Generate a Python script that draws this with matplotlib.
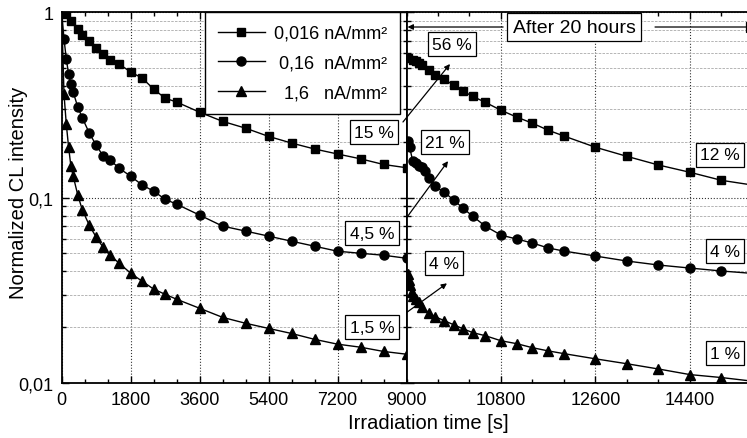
import matplotlib.pyplot as plt
from matplotlib.ticker import FixedLocator, FuncFormatter, NullFormatter

plt.rcParams['font.family'] = ['Liberation Sans', 'DejaVu Sans']
plt.rcParams['font.size'] = 13

# linker Teil: 0 ... 9000 s
t_sq = [0, 120, 240, 420, 540, 720, 900, 1080, 1260, 1500, 1800, 2100, 2400, 2700, 3000,
        3600, 4200, 4800, 5400, 6000, 6600, 7200, 7800, 8400, 9000]
i_sq = [1.0, 0.979, 0.898, 0.813, 0.754, 0.700, 0.642, 0.595, 0.552, 0.526, 0.476, 0.442, 0.385,
        0.344, 0.328, 0.289, 0.258, 0.237, 0.214, 0.197, 0.183, 0.172, 0.162, 0.151, 0.145]

t_ci = [0, 60, 120, 180, 240, 300, 420, 540, 720, 900, 1080, 1260, 1500, 1800, 2100, 2400,
        2700, 3000, 3600, 4200, 4800, 5400, 6000, 6600, 7200, 7800, 8400, 9000]
i_ci = [1.0, 0.718, 0.560, 0.464, 0.410, 0.371, 0.308, 0.269, 0.223, 0.192, 0.168, 0.160, 0.144,
        0.1306, 0.117, 0.1084, 0.098, 0.0922, 0.0805, 0.0702, 0.066, 0.062, 0.0582, 0.0547,
        0.0514, 0.0501, 0.0489, 0.0471]

t_tr = t_ci
i_tr = [1.0, 0.362, 0.249, 0.1874, 0.148, 0.1306, 0.1032, 0.0856, 0.0710, 0.0612, 0.0540,
        0.0489, 0.0443, 0.0391, 0.0354, 0.0321, 0.0301, 0.0283, 0.0253, 0.0226, 0.0210,
        0.0197, 0.0185, 0.0172, 0.0162, 0.0156, 0.0148, 0.0143]

# rechter Teil: nach 20 Stunden Pause
t_sq2 = [9030, 9120, 9180, 9240, 9300, 9420, 9540, 9720, 9900, 10080, 10260, 10500, 10800,
         11100, 11400, 11700, 12000, 12600, 13200, 13800, 14400, 15000]
i_sq2 = [0.565, 0.551, 0.544, 0.531, 0.518, 0.487, 0.458, 0.435, 0.404, 0.375, 0.352, 0.327,
         0.296, 0.272, 0.252, 0.231, 0.215, 0.187, 0.167, 0.150, 0.137, 0.124]

t_ci2 = [9030, 9060, 9120, 9180, 9240, 9300, 9360, 9420, 9540, 9720, 9900, 10080, 10260, 10500,
         10800, 11100, 11400, 11700, 12000, 12600, 13200, 13800, 14400, 15000]
i_ci2 = [0.202, 0.187, 0.157, 0.153, 0.149, 0.146, 0.139, 0.127, 0.115, 0.107, 0.097, 0.0875,
         0.0795, 0.0702, 0.0628, 0.0598, 0.0569, 0.0535, 0.0515, 0.0484, 0.0455, 0.0433,
         0.0417, 0.0402]

t_tr2 = [9030, 9050, 9070, 9100, 9120, 9180, 9240, 9300, 9420, 9540, 9720, 9900, 10080, 10260,
         10500, 10800, 11100, 11400, 11700, 12000, 12600, 13200, 13800, 14400, 15000]
i_tr2 = [0.0385, 0.0361, 0.0338, 0.0309, 0.0294, 0.0283, 0.0273, 0.0256, 0.0240, 0.0228,
         0.0217, 0.0206, 0.0196, 0.0187, 0.0180, 0.0169, 0.0163, 0.0155, 0.0149, 0.0144,
         0.0135, 0.0127, 0.0119, 0.0111, 0.0107]

# Fit-Kurven laufen bis zum Rand weiter
t_fit_end = 15500
i_fit_end = [0.118, 0.0392, 0.0103]

labels = ["0,016 nA/mm²", " 0,16  nA/mm²", "  1,6   nA/mm²"]
markers = ["s", "o", "^"]
msizes = [5.5, 6.5, 7]

fig = plt.figure(figsize=(7.47, 4.39), dpi=100)
W, H = 747, 439
ax1 = fig.add_axes([61.7 / W, 1 - 384 / H, 344.8 / W, 370.7 / H])
ax2 = fig.add_axes([406.5 / W, 1 - 384 / H, 340.5 / W, 370.7 / H])

left = [(t_sq, i_sq), (t_ci, i_ci), (t_tr, i_tr)]
right = [(t_sq2, i_sq2), (t_ci2, i_ci2), (t_tr2, i_tr2)]

for k in range(3):
    t, y = left[k]
    ax1.plot(t, y, color="black", lw=1, marker=markers[k], ms=msizes[k], label=labels[k])
    t, y = right[k]
    ax2.plot(t + [t_fit_end], y + [i_fit_end[k]], color="black", lw=1)
    ax2.plot(t, y, ls="none", color="black", marker=markers[k], ms=msizes[k])

yfmt = FuncFormatter(lambda v, p: {1: "1", 0.1: "0,1", 0.01: "0,01"}.get(round(v, 3), ""))

for ax in (ax1, ax2):
    ax.set_yscale("log")
    ax.set_ylim(0.01, 1)
    ax.yaxis.set_minor_formatter(NullFormatter())
    ax.tick_params(which="both", direction="in", top=True, width=1)
    ax.tick_params(which="major", length=5, pad=6)
    ax.tick_params(which="minor", length=3)
    ax.grid(True, which="major", axis="x", color="#333333", linestyle=":", lw=0.8)
    ax.grid(True, which="major", axis="y", color="#333333", linestyle=":", lw=0.8)
    ax.grid(True, which="minor", axis="y", color="#aaaaaa", linestyle=(0, (3, 1.5)), lw=0.6)
    for s in ax.spines.values():
        s.set_linewidth(1.3)

ax1.set_xlim(0, 9000)
ax1.xaxis.set_major_locator(FixedLocator([0, 1800, 3600, 5400, 7200, 9000]))
ax1.xaxis.set_minor_locator(FixedLocator(range(0, 9001, 600)))
ax1.yaxis.set_major_formatter(yfmt)
ax1.tick_params(which="both", right=True)
ax1.set_ylabel("Normalized CL intensity", fontsize=14.5)
ax1.yaxis.set_label_coords(-(61.7 - 28) / 344.8, 0.515)

ax2.set_xlim(9000, 15486)
ax2.xaxis.set_major_locator(FixedLocator([10800, 12600, 14400]))
ax2.xaxis.set_minor_locator(FixedLocator(range(9000, 15486, 600)))
ax2.yaxis.set_major_formatter(NullFormatter())
ax2.spines["right"].set_visible(False)
ax2.tick_params(which="both", right=False)

fig.text(428 / W, 1 - 424 / H, "Irradiation time [s]", ha="center", va="center", fontsize=14.5)

leg = ax1.legend(loc="upper right", bbox_to_anchor=(0.98, 1.0), fancybox=False,
                 edgecolor="black", framealpha=1, handlelength=2.6, labelspacing=0.7,
                 borderpad=0.7, handletextpad=0.5, borderaxespad=0)
leg.get_frame().set_linewidth(1)


def box(ax, x, y, s, size=12.5, pad=0.25):
    ax.text(x, y, s, ha="center", va="center", fontsize=size, zorder=5,
            bbox=dict(boxstyle="square,pad=%s" % pad, fc="white", ec="black", lw=0.9))


box(ax1, 8150, 0.226, "15 %")
box(ax1, 8100, 0.0643, "4,5 %")
box(ax1, 8100, 0.0200, "1,5 %")
box(ax2, 9867, 0.674, "56 %")
box(ax2, 9733, 0.1995, "21 %")
box(ax2, 9714, 0.0443, "4 %")
box(ax2, 14972, 0.170, "12 %")
box(ax2, 15067, 0.0514, "4 %")
box(ax2, 15067, 0.01446, "1 %")
box(ax2, 12191, 0.833, "After 20 hours", size=14, pad=0.3)

arr = dict(arrowstyle="-|>", color="black", lw=0.9, mutation_scale=8, shrinkA=0, shrinkB=0)
ax2.annotate("", xy=(9829, 0.526), xytext=(8933, 0.256), arrowprops=arr, annotation_clip=False)
ax2.annotate("", xy=(9791, 0.1574), xytext=(9010, 0.0785), arrowprops=arr, annotation_clip=False)
ax2.annotate("", xy=(9771, 0.0345), xytext=(9010, 0.0241), arrowprops=arr, annotation_clip=False)
ax2.annotate("", xy=(9020, 0.833), xytext=(10840, 0.833), arrowprops=arr)
ax2.annotate("", xy=(15470, 0.833), xytext=(13734, 0.833),
             arrowprops=dict(arrowstyle="|-|,widthA=0,widthB=0.25", color="black", lw=0.9,
                             shrinkA=0, shrinkB=0))

fig.savefig("out.png", dpi=100)
